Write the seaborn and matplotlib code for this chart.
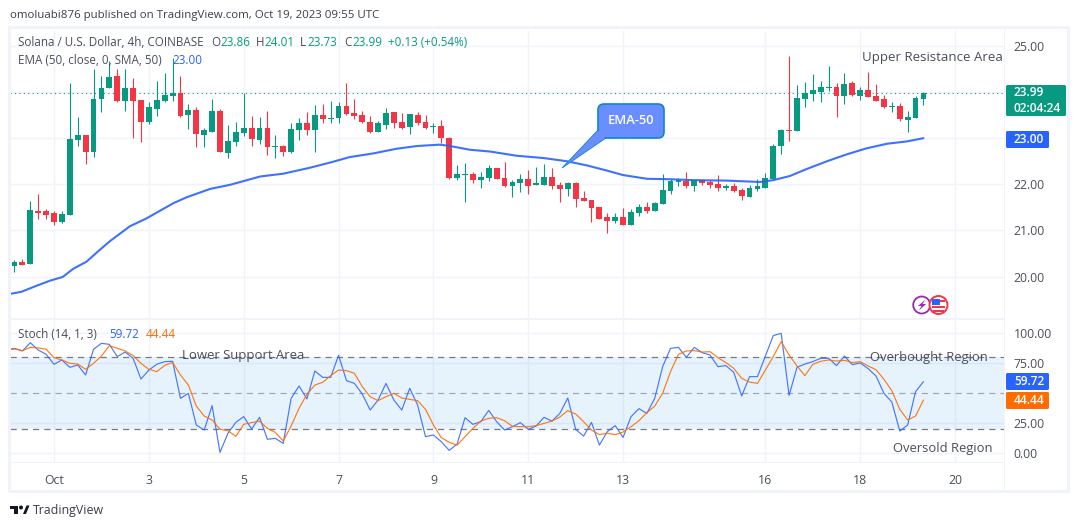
#!/usr/bin/env python3
"""Solana 4h candles with EMA-50 and a stochastic pane."""
import numpy as np
import pandas as pd
import matplotlib
matplotlib.use('Agg')
import matplotlib.pyplot as plt
from matplotlib.patches import Circle, FancyBboxPatch, Polygon, Rectangle
import seaborn as sns

# candles, one per 4h bar
opens = [20.22, 20.31, 20.28, 21.43, 21.41, 21.38, 21.19, 21.34, 22.96, 23.07, 22.69, 23.86,
         24.08, 24.34, 23.80, 24.08, 23.82, 23.36, 23.64, 23.80, 23.91, 23.99, 23.51, 23.62,
         23.08, 23.14, 23.58, 22.67, 22.91, 23.12, 23.23, 22.97, 23.23, 22.80, 22.82, 22.69,
         23.17, 23.32, 23.17, 23.51, 23.41, 23.43, 23.70, 23.55, 23.51, 23.36, 23.14, 23.29,
         23.57, 23.36, 23.25, 23.51, 23.36, 23.24, 23.27, 23.01, 22.14, 22.21, 22.22, 22.09,
         22.14, 22.36, 22.14, 21.96, 22.03, 22.12, 21.99, 21.99, 22.16, 21.99, 21.90, 22.03,
         21.70, 21.66, 21.51, 21.29, 21.20, 21.29, 21.12, 21.38, 21.51, 21.42, 21.57, 21.85,
         22.05, 22.08, 21.96, 22.09, 22.04, 22.00, 21.93, 21.96, 21.87, 21.72, 21.89, 21.91,
         22.11, 22.83, 23.17, 23.15, 23.85, 23.96, 24.00, 24.08, 24.11, 23.91, 24.20, 23.91,
         24.04, 23.91, 23.85, 23.68, 23.70, 23.39, 23.43, 23.86]
highs = [20.36, 20.38, 21.64, 21.80, 21.47, 21.43, 21.41, 24.19, 23.45, 23.07, 24.49, 24.34,
         24.67, 24.51, 24.49, 24.30, 23.82, 23.78, 24.25, 24.41, 24.75, 24.34, 23.75, 23.67,
         23.23, 23.84, 23.64, 23.28, 23.36, 23.99, 23.49, 23.45, 23.58, 23.06, 22.86, 23.34,
         23.43, 23.56, 23.73, 23.75, 23.80, 23.78, 24.20, 23.86, 23.59, 23.49, 23.38, 23.66,
         23.57, 23.55, 23.53, 23.57, 23.51, 23.33, 23.40, 23.03, 22.42, 22.46, 22.27, 22.27,
         22.42, 22.36, 22.49, 22.09, 22.22, 22.31, 22.38, 22.44, 22.36, 22.05, 22.05, 22.05,
         21.86, 21.66, 21.51, 21.38, 21.38, 21.49, 21.46, 21.57, 21.62, 21.62, 22.22, 22.11,
         22.13, 22.26, 22.09, 22.11, 22.09, 22.20, 22.00, 22.02, 21.93, 21.98, 22.11, 22.24,
         22.87, 23.20, 24.78, 24.15, 24.22, 24.39, 24.24, 24.57, 24.20, 24.41, 24.24, 24.11,
         24.43, 24.17, 23.93, 23.78, 23.76, 23.59, 23.91, 24.01]
lows = [20.09, 20.25, 20.28, 21.25, 21.24, 21.12, 21.17, 21.34, 22.82, 22.45, 22.60, 23.56,
        24.08, 23.78, 23.60, 23.01, 22.91, 23.30, 23.49, 23.78, 23.80, 23.45, 23.21, 22.80,
        22.80, 23.14, 22.69, 22.58, 22.84, 23.04, 22.84, 22.88, 22.64, 22.56, 22.62, 22.67,
        22.95, 23.08, 22.71, 23.34, 23.32, 23.32, 23.51, 23.42, 23.33, 23.12, 23.14, 23.20,
        23.22, 23.20, 23.09, 23.29, 23.20, 23.12, 22.90, 22.12, 22.09, 21.62, 22.03, 21.92,
        22.07, 22.12, 21.94, 21.72, 21.83, 21.79, 21.99, 21.99, 21.90, 21.62, 21.75, 21.51,
        21.64, 21.18, 21.25, 20.94, 21.16, 21.12, 21.12, 21.31, 21.38, 21.42, 21.57, 21.80,
        21.96, 21.93, 21.85, 21.98, 21.93, 21.85, 21.87, 21.83, 21.67, 21.72, 21.85, 21.91,
        22.11, 22.65, 22.93, 23.15, 23.67, 23.80, 23.78, 24.02, 23.46, 23.74, 23.91, 23.83,
        23.89, 23.80, 23.65, 23.57, 23.37, 23.13, 23.43, 23.73]
closes = [20.31, 20.26, 21.44, 21.38, 21.34, 21.19, 21.36, 22.99, 23.07, 22.69, 23.86, 24.09,
          24.32, 23.80, 24.08, 23.80, 23.36, 23.67, 23.82, 23.93, 23.97, 23.49, 23.62, 23.10,
          23.17, 23.58, 22.69, 22.93, 23.14, 23.23, 22.99, 23.23, 22.80, 22.82, 22.69, 23.19,
          23.34, 23.17, 23.51, 23.41, 23.44, 23.69, 23.53, 23.49, 23.36, 23.14, 23.33, 23.55,
          23.33, 23.22, 23.53, 23.33, 23.22, 23.27, 23.01, 22.14, 22.22, 22.22, 22.09, 22.16,
          22.36, 22.12, 21.96, 22.05, 22.12, 21.96, 22.03, 22.16, 21.96, 21.90, 22.03, 21.68,
          21.64, 21.49, 21.25, 21.20, 21.29, 21.12, 21.40, 21.51, 21.42, 21.59, 21.88, 22.07,
          22.09, 21.96, 22.09, 22.02, 21.98, 21.91, 21.96, 21.85, 21.74, 21.93, 21.96, 22.13,
          22.83, 23.17, 23.16, 23.87, 23.98, 24.04, 24.11, 24.11, 23.91, 24.17, 23.93, 24.04,
          23.89, 23.80, 23.67, 23.70, 23.41, 23.46, 23.87, 23.99]

# EMA-50, at the bar positions in ema_pos
ema_pos = [-0.6, 0.9, 2.8, 4.5, 6.1, 7.45, 9.1, 10.8, 12.1, 14.6, 16.7, 20.1, 21.8, 24.75, 27.3,
           31.1, 34.0, 37.4, 39.9, 42.4, 45.4, 48.3, 50.9, 53.8, 55.1, 57.6, 60.2, 63.5, 66.9,
           69.9, 72.4, 74.9, 77.0, 80.0, 82.9, 85.9, 90.1, 94.3, 96.0, 98.1, 100.2, 102.8,
           105.3, 107.8, 110.4, 112.9, 115.0]
ema_vals = [19.62, 19.67, 19.80, 19.91, 19.99, 20.17, 20.32, 20.58, 20.77, 21.09, 21.26, 21.59,
            21.72, 21.90, 21.99, 22.17, 22.23, 22.36, 22.47, 22.59, 22.67, 22.77, 22.83, 22.86,
            22.83, 22.75, 22.71, 22.62, 22.57, 22.50, 22.41, 22.30, 22.20, 22.12, 22.11, 22.09,
            22.08, 22.05, 22.09, 22.18, 22.33, 22.50, 22.65, 22.78, 22.88, 22.93, 23.00]

# stochastic, starting one bar before the first candle
stoch_k = [86.1, 87.5, 85.3, 92.2, 86.1, 82.5, 74.2, 77.8, 71.7, 73.6, 65.3, 86.7, 91.7, 90.8,
           80.6, 84.4, 79.2, 61.9, 69.4, 74.2, 76.4, 76.7, 45.8, 50.0, 23.6, 19.4, 39.7, 0.8,
           16.7, 25.8, 30.6, 20.3, 30.0, 11.7, 12.5, 8.3, 45.8, 56.1, 45.3, 68.6, 63.3, 63.3,
           81.7, 60.6, 58.3, 49.4, 36.1, 44.4, 58.3, 44.4, 36.1, 54.2, 40.3, 13.9, 15.3, 9.7,
           2.5, 7.8, 29.7, 24.2, 26.4, 35.8, 26.4, 19.4, 22.2, 25.6, 20.0, 22.8, 30.0, 26.9,
           33.3, 46.1, 20.0, 14.4, 25.8, 6.9, 18.1, 23.1, 13.3, 30.6, 37.2, 33.3, 45.8, 72.2,
           87.5, 88.3, 80.0, 88.3, 83.9, 81.9, 72.2, 73.1, 67.5, 47.8, 63.9, 63.9, 81.1, 98.1,
           100.0, 48.3, 71.7, 74.4, 76.4, 79.2, 79.2, 73.1, 81.1, 73.9, 75.3, 70.6, 64.4, 50.0,
           42.8, 18.6, 23.6, 51.4, 59.72]
stoch_d = [86.1, 86.9, 85.6, 88.3, 87.8, 86.7, 79.7, 77.8, 75.0, 74.4, 70.0, 75.0, 81.1, 89.7,
           87.5, 85.3, 81.4, 75.0, 70.0, 68.1, 73.3, 75.8, 65.3, 56.9, 39.4, 31.1, 27.8, 20.0,
           18.9, 14.2, 24.2, 25.6, 26.9, 20.8, 17.5, 10.3, 22.8, 37.5, 49.2, 56.9, 59.2, 64.7,
           69.4, 68.9, 66.7, 55.6, 47.2, 43.9, 47.2, 50.0, 46.1, 45.0, 43.9, 36.7, 23.6, 13.1,
           9.2, 6.9, 13.9, 20.8, 26.9, 29.2, 29.7, 27.2, 22.5, 22.2, 22.2, 23.1, 25.0, 26.9,
           30.3, 35.6, 32.8, 26.4, 19.4, 15.6, 16.7, 15.6, 17.8, 22.2, 27.2, 33.9, 39.4, 50.0,
           68.1, 82.5, 85.3, 85.6, 84.4, 84.7, 79.7, 75.6, 70.8, 62.5, 59.4, 58.3, 69.4, 80.6,
           93.1, 81.9, 72.8, 64.7, 74.2, 76.7, 77.8, 76.9, 77.5, 75.6, 76.4, 72.8, 69.7, 61.7,
           52.2, 36.7, 27.8, 31.1, 44.44]

time_ticks = [5, 17, 29, 41, 53, 65, 77, 95, 107, 119]
time_labels = ['Oct', '3', '5', '7', '9', '11', '13', '16', '18', '20']
price_ticks = [20, 21, 22, 23, 24, 25]
price_labels = ['20.00', '21.00', '22.00', '', '', '25.00']  # 23 and 24 sit under the tags
stoch_ticks = [0, 25, 75, 100]

GREEN = '#089981'
RED = '#f23645'
BLUE = '#2962ff'
ORANGE = '#ff6d00'
GRID = '#f0f3fa'
TEXT = '#131722'
LABEL = '#4a4e59'
W, H = 1080, 528
FONT = 'Open Sans'


def pane(left, top, right, bottom):
    # axes rectangle given in picture pixels
    return fig.add_axes([left / W, 1 - bottom / H, (right - left) / W, (bottom - top) / H])


sns.set_theme(style='white')
plt.rcParams['font.family'] = [FONT, 'DejaVu Sans']

fig = plt.figure(figsize=(W / 100, H / 100), dpi=100)
xlim = (-0.569, 125.19)

# price pane
ax = pane(10, 31, 1004, 318)
ax.set_xlim(*xlim)
ax.set_ylim(19.10, 25.325)
df = pd.DataFrame({'o': opens, 'h': highs, 'l': lows, 'c': closes})
df['x'] = df.index
df['colour'] = np.where(df.c >= df.o, GREEN, RED)
ax.vlines(df.x, df.l, df.h, colors=df.colour, linewidth=0.8, zorder=3)
ax.bar(df.x, (df.c - df.o).abs().clip(lower=0.015), bottom=df[['o', 'c']].min(axis=1),
       width=0.74, color=df.colour, linewidth=0, zorder=4)
sns.lineplot(x=ema_pos, y=ema_vals, ax=ax, color=BLUE, linewidth=1.5, zorder=5, alpha=0.9)
ax.axhline(closes[-1], color=GREEN, linewidth=0.8, linestyle=(0, (1, 3)), zorder=2)

# stochastic pane
ax2 = pane(10, 320, 1004, 462)
ax2.set_xlim(*xlim)
ax2.set_ylim(-7.2, 111.1)
ax2.axhspan(20, 80, color='#2196f3', alpha=0.11, linewidth=0, zorder=1)
for level, shade in [(80, '#787b86'), (50, '#a3a6af'), (20, '#787b86')]:
    ax2.axhline(level, color=shade, linewidth=0.9, linestyle=(0, (5, 4)), zorder=2)
stoch_x = np.arange(-1, len(stoch_k) - 1)
sns.lineplot(x=stoch_x, y=stoch_k, ax=ax2, color=BLUE, linewidth=0.85, zorder=4, alpha=0.85)
sns.lineplot(x=stoch_x, y=stoch_d, ax=ax2, color=ORANGE, linewidth=0.85, zorder=5, alpha=0.9)

for a, ticks in [(ax, price_ticks), (ax2, stoch_ticks)]:
    a.set_xticks(time_ticks)
    a.set_yticks(ticks)
    a.grid(True, color=GRID, linewidth=1, zorder=0)
    a.set_axisbelow(True)
    a.yaxis.tick_right()
    a.tick_params(length=0, labelsize=8.8, labelcolor=LABEL, pad=7)
    for side in a.spines.values():
        side.set_visible(False)
ax.set_xticklabels([])
ax.set_yticklabels(price_labels)
ax2.set_yticklabels([f'{t:.2f}' for t in stoch_ticks])
ax2.set_xticklabels(time_labels)
ax2.tick_params(axis='x', pad=9)

# overlay in picture pixels for the frame, labels, callout and logos
top = fig.add_axes([0, 0, 1, 1], zorder=10)
top.set_xlim(0, W)
top.set_ylim(H, 0)
top.axis('off')
top.patch.set_alpha(0)

for rect in [(8, 26, 1062, 3), (8, 490, 1062, 3), (8, 26, 2.5, 467), (1067, 26, 3, 467),
             (1004, 29, 1, 462), (10, 318, 994, 2), (10, 462, 994, 1)]:
    top.add_patch(Rectangle(rect[:2], rect[2], rect[3], color=GRID, linewidth=0))


def label(x, y, s, colour=TEXT, size=8.4, **kw):
    kw.setdefault('va', 'center')
    top.text(x, y, s, color=colour, fontsize=size, **kw)


label(10, 15.5, 'omoluabi876 published on TradingView.com, Oct 19, 2023 09:55 UTC', '#3a3e49', 8.25)
label(18, 43, 'Solana / U.S. Dollar, 4h, COINBASE', LABEL)
for x, s, c in [(211, 'O', LABEL), (220, '23.86', GREEN), (256, 'H', LABEL), (264, '24.01', GREEN),
                (300, 'L', LABEL), (307, '23.73', GREEN), (344, 'C', LABEL), (352, '23.99', GREEN),
                (388, '+0.13 (+0.54%)', GREEN)]:
    label(x, 43, s, c)
label(18, 60, 'EMA (50, close, 0, SMA, 50)', LABEL)
label(172, 60, '23.00', BLUE)
label(18, 334, 'Stoch (14, 1, 3)', LABEL)
label(109, 334, '59.72', BLUE)
label(146, 334, '44.44', ORANGE)

label(862, 57, 'Upper Resistance Area', LABEL, 9.5)
label(182, 355, 'Lower Support Area', LABEL, 9.45)
label(870, 357, 'Overbought Region', LABEL, 9.35)
label(893, 448.5, 'Oversold Region', LABEL, 9.4)

# axis price tags
for x, y, w, h, c, s in [(1006, 85, 60, 31, GREEN, '23.99\n02:04:24'), (1006, 131, 43, 17, BLUE, '23.00'),
                         (1006, 373, 43, 17, BLUE, '59.72'), (1006, 392, 43, 17, ORANGE, '44.44')]:
    top.add_patch(FancyBboxPatch((x, y), w, h, boxstyle='round,pad=0,rounding_size=1.5',
                                 facecolor=c, edgecolor='none'))
    top.text(x + 8, y + h / 2, s, color='white', fontsize=8.6, va='center', linespacing=1.25,
             fontweight='semibold')

# EMA-50 callout
callout_fill, callout_edge = '#6a8eff', '#0b87c9'
top.add_patch(FancyBboxPatch((598, 104), 66, 34, boxstyle='round,pad=0,rounding_size=6',
                             facecolor=callout_fill, edgecolor=callout_edge, linewidth=1.2))
top.add_patch(Polygon([(598, 130), (562, 168), (606, 138)], closed=True, facecolor=callout_fill,
                      edgecolor=callout_edge, linewidth=0.6))
top.add_patch(Rectangle((599, 128), 10, 9, color=callout_fill, linewidth=0))
top.text(631, 120, 'EMA-50', color='white', fontsize=9.3, ha='center', va='center',
         fontweight='semibold')

# publisher badges
top.add_patch(Circle((921.7, 305), 8.5, facecolor='white', edgecolor='#9c27b0', linewidth=1.3))
top.add_patch(Polygon([(925.5, 299.5), (918, 306), (921.5, 306), (919, 310.5), (926, 304), (922.5, 304)],
                      closed=True, color='#9c27b0', linewidth=0))
top.add_patch(Circle((938.5, 305), 9, facecolor='white', edgecolor=RED, linewidth=1.4))
top.add_patch(Rectangle((932, 306), 13, 2, color=RED, linewidth=0))
top.add_patch(Rectangle((933, 310), 11, 2, color=RED, linewidth=0))
top.add_patch(Rectangle((931.5, 299), 8, 6, color=BLUE, linewidth=0))
top.add_patch(Rectangle((940, 300), 5, 2, color=RED, linewidth=0))

# TradingView mark
top.add_patch(Polygon([(10, 505.5), (18, 505.5), (18, 514), (14, 514), (14, 509), (10, 509)],
                      closed=True, color='#131722', linewidth=0))
top.add_patch(Circle((21, 507.5), 2, color='#131722', linewidth=0))
top.add_patch(Polygon([(23, 514), (26.5, 505.5), (29.5, 505.5), (26, 514)], closed=True, color='#131722',
                      linewidth=0))
label(33, 510.5, 'TradingView', '#3a3e49', 8.9)

fig.savefig('out.png', dpi=100, facecolor='white')
